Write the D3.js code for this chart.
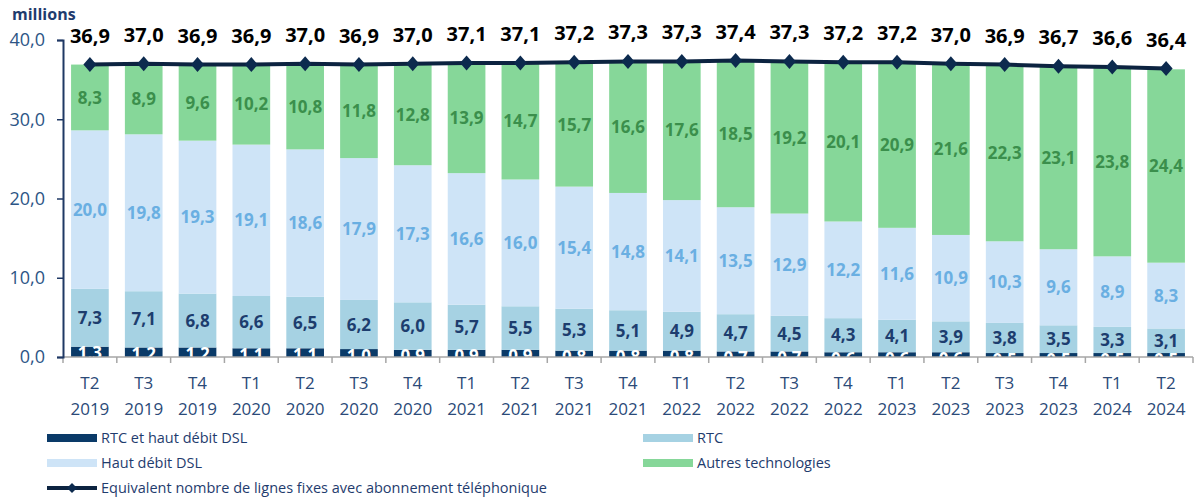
<!DOCTYPE html>
<html>
<head>
<meta charset="utf-8">
<script src="https://cdn.jsdelivr.net/npm/d3@7.9.0/dist/d3.min.js"></script>
<style>
  body { margin: 0; background: #fff; }
  svg { font-family: "Open Sans", sans-serif; }
</style>
</head>
<body>
<svg id="chart" width="1195" height="500"></svg>
<script>
// Data (millions)
const quarters = ["T2","T3","T4","T1","T2","T3","T4","T1","T2","T3","T4","T1","T2","T3","T4","T1","T2","T3","T4","T1","T2"];
const years = ["2019","2019","2019","2020","2020","2020","2020","2021","2021","2021","2021","2022","2022","2022","2022","2023","2023","2023","2023","2024","2024"];
const rtcDsl = [1.3,1.2,1.2,1.1,1.1,1.0,0.9,0.9,0.9,0.8,0.8,0.8,0.7,0.7,0.6,0.6,0.6,0.5,0.5,0.5,0.5];
const rtc = [7.3,7.1,6.8,6.6,6.5,6.2,6.0,5.7,5.5,5.3,5.1,4.9,4.7,4.5,4.3,4.1,3.9,3.8,3.5,3.3,3.1];
const dsl = [20.0,19.8,19.3,19.1,18.6,17.9,17.3,16.6,16.0,15.4,14.8,14.1,13.5,12.9,12.2,11.6,10.9,10.3,9.6,8.9,8.3];
const autres = [8.3,8.9,9.6,10.2,10.8,11.8,12.8,13.9,14.7,15.7,16.6,17.6,18.5,19.2,20.1,20.9,21.6,22.3,23.1,23.8,24.4];
const totals = [36.9,37.0,36.9,36.9,37.0,36.9,37.0,37.1,37.1,37.2,37.3,37.3,37.4,37.3,37.2,37.2,37.0,36.9,36.7,36.6,36.4];
const yTicks = [0, 10, 20, 30, 40];

const seriesNames = ["RTC et haut débit DSL", "RTC", "Haut débit DSL", "Autres technologies"];
const seriesValues = [rtcDsl, rtc, dsl, autres];
const fills = ["#0a3a68", "#a6d2e3", "#cee4f7", "#86d799"];
const labelColors = ["#ffffff", "#1d3d6e", "#6aafe2", "#3b8f4c"];
const lineName = "Equivalent nombre de lignes fixes avec abonnement téléphonique";

const svg = d3.select("#chart");
const fmt = v => d3.format(".1f")(v).replace(".", ",");

const keys = quarters.map((q, i) => i);
const rows = keys.map(i => {
  const r = { i };
  seriesNames.forEach((s, k) => r[s] = seriesValues[k][i]);
  return r;
});

const x = d3.scaleBand().domain(keys).range([63, 1193]).paddingInner(0.3).paddingOuter(0.15);
const y = d3.scaleLinear().domain([0, 40]).range([357, 40]);

const stacked = d3.stack().keys(seriesNames)(rows);

// bars
const layers = svg.append("g").selectAll("g")
  .data(stacked)
  .enter().append("g")
  .attr("fill", (d, k) => fills[k]);

layers.selectAll("rect")
  .data(d => d)
  .enter().append("rect")
  .attr("x", d => x(d.data.i))
  .attr("y", d => y(d[1]))
  .attr("width", x.bandwidth())
  .attr("height", d => y(d[0]) - y(d[1]));

// segment labels (bottom series: text hangs from the segment top, rest falls on white)
stacked.forEach((layer, k) => {
  svg.append("g").selectAll("text")
    .data(layer)
    .enter().append("text")
    .attr("x", d => x(d.data.i) + x.bandwidth() / 2)
    .attr("y", d => k === 0 ? y(d[1]) + 12.5 : (y(d[0]) + y(d[1])) / 2)
    .attr("dy", k === 0 ? 0 : "0.36em")
    .attr("text-anchor", "middle")
    .attr("font-size", 17)
    .attr("font-weight", "bold")
    .attr("fill", labelColors[k])
    .text(d => fmt(d.data[seriesNames[k]]));
});

// x axis
const step = x.step();
const gap = step - x.bandwidth();
const bounds = keys.map(i => x(i) - gap / 2).concat([x(keys.length - 1) + x.bandwidth() + gap / 2]);
const xa = svg.append("g");
xa.append("line").attr("x1", 63).attr("x2", 1193).attr("y1", 357).attr("y2", 357)
  .attr("stroke", "#a6a6a6").attr("stroke-width", 1.5);
xa.selectAll("line.tk").data(bounds).enter().append("line").attr("class", "tk")
  .attr("x1", d => d).attr("x2", d => d).attr("y1", 357).attr("y2", 363)
  .attr("stroke", "#a6a6a6").attr("stroke-width", 1.5);
const xl = xa.selectAll("text.xl").data(keys).enter().append("text").attr("class", "xl")
  .attr("text-anchor", "middle")
  .attr("font-size", 17)
  .attr("fill", "#2b4a78");
xl.append("tspan").attr("x", d => x(d) + x.bandwidth() / 2).attr("y", 389).text(d => quarters[d]);
xl.append("tspan").attr("x", d => x(d) + x.bandwidth() / 2).attr("y", 415).text(d => years[d]);

// y axis
const ya = svg.append("g").attr("transform", "translate(63,0)")
  .call(d3.axisLeft(y).tickValues(yTicks).tickFormat(fmt).tickSize(6).tickPadding(12));
ya.select(".domain").attr("stroke", "#1f3864").attr("stroke-width", 2);
ya.selectAll(".tick line").attr("stroke", "#1f3864").attr("stroke-width", 1.5);
ya.selectAll(".tick text").attr("font-size", 18).attr("fill", "#2d5585")
  .attr("font-family", "Open Sans, sans-serif");

svg.append("text").attr("x", 12).attr("y", 20)
  .attr("font-size", 16).attr("font-weight", "bold").attr("fill", "#1f3c6e")
  .text("millions");

// total line
const line = d3.line()
  .x((d, i) => x(i) + x.bandwidth() / 2)
  .y(d => y(d));
svg.append("path").datum(totals)
  .attr("d", line)
  .attr("fill", "none")
  .attr("stroke", "#0c2340")
  .attr("stroke-width", 4);
const diamond = d3.symbol().type(d3.symbolSquare).size(85);
svg.append("g").selectAll("path")
  .data(totals)
  .enter().append("path")
  .attr("d", diamond)
  .attr("transform", (d, i) => `translate(${x(i) + x.bandwidth() / 2},${y(d)}) scale(1,1.15) rotate(45)`)
  .attr("fill", "#0c2a4e");
svg.append("g").selectAll("text")
  .data(totals)
  .enter().append("text")
  .attr("x", (d, i) => x(i) + x.bandwidth() / 2)
  .attr("y", d => y(d) - 22)
  .attr("text-anchor", "middle")
  .attr("font-size", 20)
  .attr("font-weight", "bold")
  .attr("fill", "#000")
  .text(d => fmt(d));

// legend
const legendPos = [[47, 438], [643, 438], [47, 463], [643, 463]];
const lg = svg.append("g");
seriesNames.forEach((s, k) => {
  const [lx, ly] = legendPos[k];
  lg.append("rect").attr("x", lx).attr("y", ly - 4).attr("width", 50).attr("height", 8).attr("fill", fills[k]);
  lg.append("text").attr("x", lx + 54).attr("y", ly).attr("dy", "0.35em")
    .attr("font-size", 14.5).attr("fill", "#1f3c6e").text(s);
});
lg.append("line").attr("x1", 47).attr("x2", 97).attr("y1", 488).attr("y2", 488)
  .attr("stroke", "#0c2340").attr("stroke-width", 4);
lg.append("path").attr("d", d3.symbol().type(d3.symbolSquare).size(50))
  .attr("transform", "translate(72,488) rotate(45)").attr("fill", "#0c2a4e");
lg.append("text").attr("x", 101).attr("y", 488).attr("dy", "0.35em")
  .attr("font-size", 14.5).attr("fill", "#1f3c6e").text(lineName);
</script>
</body>
</html>
